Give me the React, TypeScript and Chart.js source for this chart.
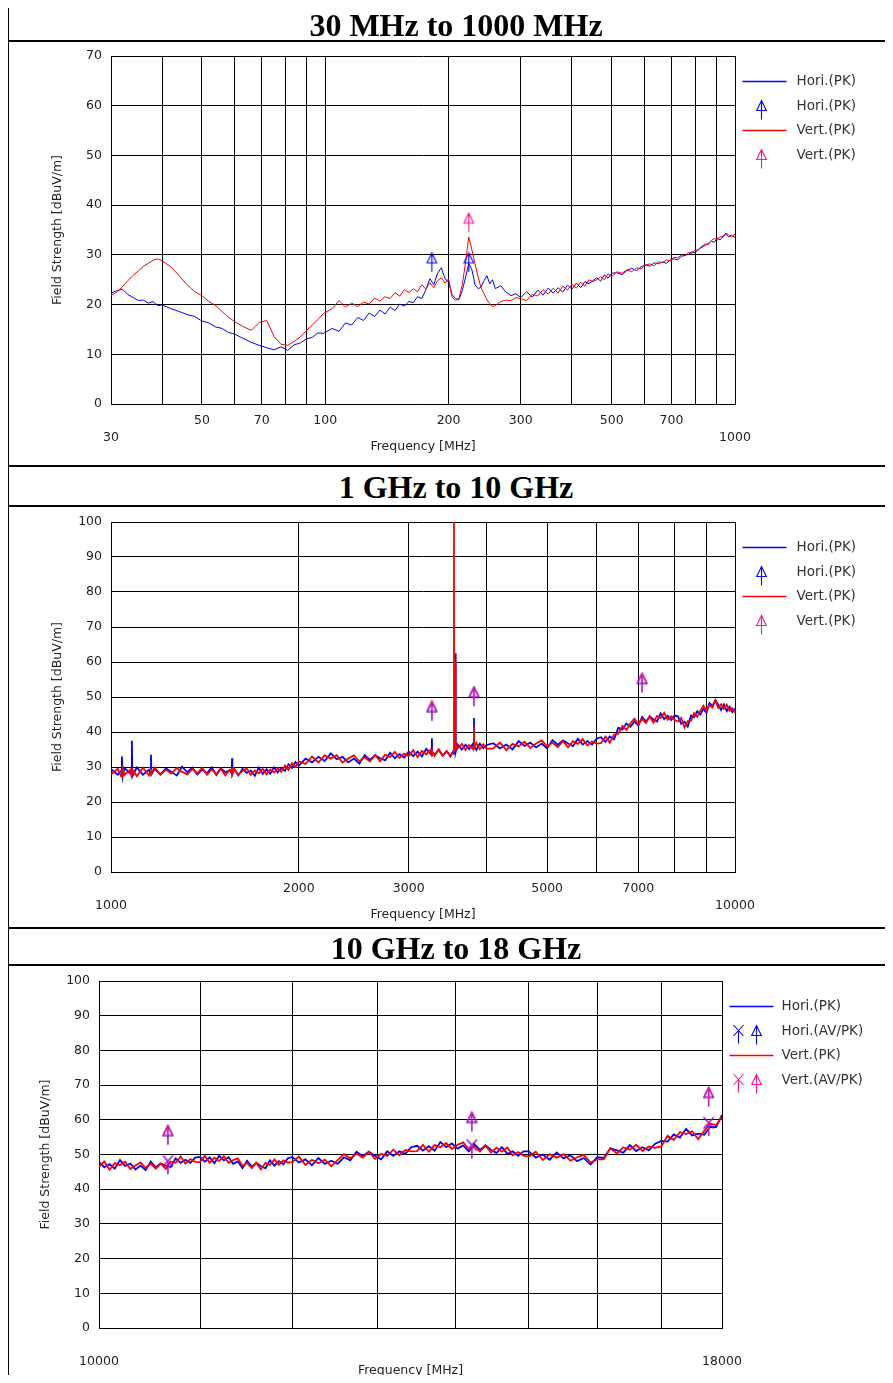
import React, { useEffect, useRef } from 'react';
import { Chart, registerables } from 'chart.js';

Chart.register(...registerables);

const FONT = '"DejaVu Sans", Verdana, sans-serif';
const TEXT = '#222222';
const BLUE = '#0000ff';
const RED = '#ff0000';
const PINK = '#ff1493';

// ================= Panel 1 : 30 MHz to 1000 MHz =================
const F1 = [30,31,32,33,34,35,36,37,38,39,40,42,44,46,48,50,52,54,56,58,60,63,66,69,72,75,78,81,84,87,90,93,96,99,104,108,112,116,120,124,128,132,136,140,144,148,152,156,160,164,168,172,176,180,184,188,192,196,200,204,208,212,216,220,224,228,232,236,240,244,248,252,256,260,268,276,284,292,300,310,320,330,340,350,360,370,380,390,400,410,420,430,440,450,460,470,480,490,500,515,530,545,560,575,590,605,620,635,650,665,680,695,710,725,740,755,770,785,800,815,830,845,860,875,890,905,920,935,950,965,980,1000];
const H1 = [22.3,22.8,23.1,22.0,21.4,20.8,20.9,20.3,20.6,19.8,19.9,
  19.2,18.6,18.0,17.6,16.7,16.3,15.5,15.2,14.4,14.1,
  13.2,12.4,11.8,11.3,10.9,11.5,10.8,11.9,12.3,13.1,13.4,14.3,14.2,
  15.2,14.6,16.3,15.9,17.4,16.8,18.3,17.6,18.9,18.1,19.5,18.8,20.1,19.7,20.6,20.4,21.6,21.2,23.0,25.2,24.0,26.3,27.4,25.2,24.5,
  22.0,21.2,21.0,22.8,25.5,28.2,27.0,24.0,23.2,23.5,24.8,25.8,24.2,25.0,23.2,23.8,22.5,21.8,22.2,21.4,
  22.6,21.5,22.9,21.9,23.3,22.3,23.4,22.5,23.9,23.1,24.3,23.4,24.6,24.2,24.8,25.4,24.7,26.0,25.3,26.3,
  26.4,26.0,26.9,27.3,26.8,27.6,28.0,27.7,28.4,28.2,28.6,28.3,29.0,29.2,29.0,29.7,29.9,30.1,30.6,30.4,31.2,31.5,31.9,32.3,32.8,32.5,33.4,33.0,33.8,34.2,33.6,34.0,33.5];
const V1 = [21.8,22.5,23.6,24.8,25.9,26.8,27.7,28.3,28.9,29.2,28.8,
  27.6,25.8,24.0,22.6,21.8,20.6,19.8,18.6,17.5,16.6,
  15.6,14.8,16.4,16.8,13.6,12.0,11.8,12.6,13.5,14.8,15.9,17.0,18.2,
  19.2,20.8,19.5,20.3,19.6,20.5,20.1,21.3,20.7,21.6,21.2,22.4,21.7,23.0,22.4,23.2,22.6,24.0,23.1,24.4,23.4,24.8,25.4,24.3,25.2,
  21.5,20.8,21.2,24.0,28.5,33.6,31.0,28.2,25.6,23.4,22.2,21.0,20.2,19.6,19.8,20.6,20.9,20.8,21.4,21.2,
  20.8,22.1,21.7,23.0,22.1,23.3,22.3,23.7,22.9,24.1,23.3,24.5,23.7,25.0,24.6,25.0,25.6,25.0,26.2,25.6,
  26.6,26.3,27.0,26.6,27.4,27.2,27.9,28.2,27.8,28.6,28.4,29.0,28.8,29.5,29.4,30.0,29.8,30.5,30.3,31.0,31.0,31.8,32.2,32.0,32.9,33.3,33.0,33.7,33.5,34.4,34.0,33.6,34.2];
const H1_PK_F = [182, 224];
const H1_PK_V = [29.3, 29.3];
const V1_PK_F = [224];
const V1_PK_V = [37.3];
const X1_TICKS = [30,40,50,60,70,80,90,100,200,300,400,500,600,700,800,900,1000];
const X1_UPPER = [50,70,100,200,300,500,700];
const X1_LOWER = [30,1000];

// ================= Panel 2 : 1 GHz to 10 GHz =================
const F2 = [1000,1025,1038,1041,1044,1050,1075,1078,1080,1082,1100,1125,1150,1157,1159,1161,1175,1200,1225,1250,1275,1300,1325,1350,1375,1400,1425,1450,1475,1500,1525,1550,1561,1563,1565,1575,1600,1625,1650,1675,1700,1725,1750,1775,1800,1825,1850,1875,1900,1925,1950,1975,2000,
  2050,2100,2150,2200,2250,2300,2350,2400,2450,2500,2550,2600,2650,2700,2750,2800,2850,2900,2950,3000,3050,3100,3150,3200,3250,3266,3268,3270,3300,3350,3400,3450,3500,3530,3542,3545,3548,3555,3560,3565,3570,3575,3590,3650,3700,3750,3800,3814,3817,3820,3850,3900,3950,4000,
  4100,4200,4300,4400,4500,4600,4700,4800,4900,5000,5100,5200,5300,5400,5500,5600,5700,5800,5900,6000,6100,6200,6300,6400,6500,6600,6700,6800,6900,7000,7100,7200,7300,7400,7500,7600,7700,7800,7900,8000,8100,8200,8300,8400,8500,8600,8700,8800,8900,9000,9100,9200,9300,9400,9500,9600,9700,9800,9900,10000];
const H2 = [29.4,27.8,28.9,33.0,27.4,29.7,28.1,28.8,37.5,27.3,29.9,27.8,29.2,28.0,33.5,27.9,29.5,27.9,29.6,28.6,27.6,30.1,28.5,29.8,27.8,29.3,28.2,29.9,27.7,29.6,28.5,29.1,28.1,32.5,28.0,29.4,27.6,29.5,28.3,29.0,27.5,29.8,28.0,29.4,28.1,29.9,28.4,29.7,28.9,30.8,29.7,31.4,30.4,
  32.4,31.3,32.9,31.7,33.9,32.2,32.9,31.3,32.4,31.0,33.4,32.0,33.4,32.5,31.9,34.1,32.5,33.7,32.7,34.4,33.1,34.4,33.0,35.2,33.8,33.4,38.2,34.2,33.5,35.0,33.2,34.6,33.0,34.3,33.8,34.6,35.2,34.8,62.5,35.4,34.3,35.0,36.5,35.0,36.4,35.1,36.6,35.3,44.0,35.9,34.9,36.7,35.4,36.3,
  36.8,35.3,36.4,35.0,37.4,36.0,37.0,35.6,36.7,35.3,37.7,36.3,37.6,36.7,36.0,38.1,36.4,37.4,36.4,38.1,38.5,37.2,38.7,37.9,41.2,40.7,42.4,41.5,43.0,41.8,44.3,43.0,44.5,43.6,43.0,45.3,43.7,44.6,43.4,44.7,44.5,42.3,42.9,41.5,44.7,44.2,45.9,45.0,46.6,45.5,48.3,47.4,49.1,47.8,46.3,47.9,46.0,47.2,45.7,46.7];
const V2 = [27.9,29.5,27.3,29.0,29.7,27.7,29.3,27.4,28.6,29.3,27.4,29.8,27.6,28.4,29.5,28.1,29.9,27.8,29.2,28.1,29.7,28.6,27.9,29.4,28.2,29.8,27.8,29.3,28.0,29.6,27.6,29.2,28.4,29.7,28.1,29.5,27.8,28.9,29.6,27.7,29.0,28.2,29.5,27.9,29.3,28.4,29.6,28.6,30.4,29.2,31.1,30.0,31.6,
  30.9,33.0,31.3,33.3,32.4,33.4,31.3,32.4,33.3,31.6,32.8,31.6,33.4,31.6,33.5,32.8,34.3,32.6,33.8,33.1,34.8,32.8,34.6,33.6,34.9,33.2,35.2,34.5,33.2,35.0,33.2,34.5,33.2,34.2,34.6,100,35.5,34.4,36.0,60.0,35.0,36.4,35.2,36.6,34.8,36.3,35.2,36.0,41.5,35.4,36.9,35.1,36.5,35.2,
  35.3,37.0,34.8,36.6,35.9,37.2,35.4,36.7,37.6,35.9,36.9,35.7,37.4,35.6,37.4,36.6,38.0,36.1,37.3,36.7,36.8,38.7,36.9,39.3,39.5,41.7,40.6,42.5,43.8,42.3,43.7,42.6,44.5,42.7,44.6,44.0,45.5,43.5,44.5,43.5,43.0,44.0,41.3,43.1,43.2,45.4,44.3,46.1,47.5,46.1,47.7,47.0,49.1,46.9,47.9,46.6,47.8,46.1,46.8,45.5];
const H2_PK_F = [3268, 3817, 7096];
const H2_PK_V = [47.0, 51.2, 55.1];
const V2_PK_F = [3268, 3817, 7096];
const V2_PK_V = [47.4, 51.4, 55.3];
const X2_TICKS = [1000,2000,3000,4000,5000,6000,7000,8000,9000,10000];
const X2_UPPER = [2000,3000,5000,7000];
const X2_LOWER = [1000,10000];

// ================= Panel 3 : 10 GHz to 18 GHz =================
const F3 = [10000,10050,10100,10150,10200,10250,10300,10350,10400,10450,10500,10550,10600,10650,10700,10750,10800,10850,10900,10950,11000,11050,11100,11150,11200,11250,11300,11350,11400,11450,11500,11550,11600,11650,11700,11750,11800,11850,11900,11950,12000,
  12075,12150,12225,12300,12375,12450,12525,12600,12675,12750,12825,12900,12975,13050,13125,13200,13275,13350,13425,13500,13575,13650,13725,13800,13875,13950,14025,14100,14175,14250,14325,14400,14475,14550,14625,14700,14775,14850,14925,15000,
  15100,15200,15300,15400,15500,15600,15700,15800,15900,16000,16100,16200,16300,16400,16500,16600,16700,16800,16900,17000,17100,17200,17300,17400,17500,17600,17700,17800,17900,18000];
const H3 = [47.9,46.3,47.2,45.9,48.4,46.7,47.4,45.7,46.8,45.5,48.0,46.3,47.4,46.8,46.4,48.9,47.6,48.5,47.6,49.1,
  49.3,47.9,49.2,47.5,49.6,48.3,49.2,47.3,48.0,46.1,48.2,46.5,47.6,46.6,46.0,48.3,46.8,48.1,47.2,48.9,
  49.3,47.7,48.6,46.9,49.0,47.3,48.2,47.3,49.2,48.3,50.8,49.5,50.8,49.6,48.6,50.9,49.6,50.9,50.2,52.1,
  52.5,51.1,52.4,51.1,53.6,52.1,53.2,51.7,52.6,50.9,53.0,51.3,52.6,51.4,50.4,52.1,50.2,50.9,49.6,50.9,
  50.9,49.1,50.0,48.5,50.6,48.9,49.8,48.1,49.0,47.1,49.2,49.0,51.8,51.2,50.5,52.7,51.0,52.1,51.2,53.1,
  53.9,53.7,55.8,54.9,57.4,55.5,56.0,55.7,58.0,57.9,61.4];
const V3 = [46.4,48.0,45.6,47.5,46.9,47.9,45.8,46.8,47.7,46.1,47.4,45.9,47.4,45.9,48.0,47.6,49.4,47.4,48.7,47.9,
  47.8,49.6,47.6,49.1,48.1,49.5,47.6,48.4,48.9,46.7,47.6,46.1,47.6,45.7,47.6,47.0,48.6,47.0,48.3,47.7,
  47.8,49.4,47.0,48.5,47.5,48.5,46.6,48.4,50.1,48.9,50.2,49.1,50.8,48.7,50.2,49.6,51.4,49.8,51.3,50.9,
  51.0,52.8,50.8,52.7,52.1,53.3,51.6,52.8,53.5,51.5,52.4,50.9,52.6,50.5,52.0,50.8,52.0,49.8,50.7,49.7,
  49.4,50.8,48.4,50.1,49.1,50.1,48.2,49.2,49.9,47.7,48.6,48.6,51.8,50.3,52.1,51.4,52.8,51.0,52.3,51.9,
  52.4,55.4,54.2,56.5,55.9,56.7,54.4,56.8,58.9,58.5,60.8];
const MK3_F = [10672, 14216, 17775];
const H3_AV_V = [47.9, 52.5, 58.9];
const H3_PK_V = [56.7, 60.5, 67.7];
const V3_AV_V = [48.1, 52.7, 59.1];
const V3_PK_V = [56.9, 60.7, 67.9];
const X3_TICKS = [10000,11000,12000,13000,14000,15000,16000,17000,18000];
const X3_UPPER: number[] = [];
const X3_LOWER = [10000, 18000];

// ================= helpers =================
type IconKind = 'arrow' | 'cross';
interface LegendEntry { label: string; color: string; icons?: IconKind[] }

function drawIcon(ctx: CanvasRenderingContext2D, kind: IconKind, cx: number, cy: number, color: string) {
  ctx.save();
  ctx.strokeStyle = color;
  ctx.lineWidth = 1.1;
  ctx.beginPath();
  if (kind === 'arrow') {
    ctx.moveTo(cx, cy - 5.5);
    ctx.lineTo(cx + 4.8, cy + 4.5);
    ctx.lineTo(cx - 4.8, cy + 4.5);
    ctx.closePath();
    ctx.moveTo(cx, cy - 5.5);
    ctx.lineTo(cx, cy + 13.5);
  } else {
    ctx.moveTo(cx - 5, cy - 6);
    ctx.lineTo(cx + 5, cy + 5);
    ctx.moveTo(cx + 5, cy - 6);
    ctx.lineTo(cx - 5, cy + 5);
    ctx.moveTo(cx, cy - 0.5);
    ctx.lineTo(cx, cy + 12.5);
  }
  ctx.stroke();
  ctx.restore();
}

function makeIcon(kind: IconKind, color: string): HTMLCanvasElement {
  const c = document.createElement('canvas');
  c.width = 15;
  c.height = 33;
  const ctx = c.getContext('2d') as CanvasRenderingContext2D;
  drawIcon(ctx, kind, 7.5, 16.5, color);
  return c;
}

function pts(f: number[], v: number[]) {
  return f.map((x, i) => ({ x, y: v[i] }));
}

function lineSet(label: string, f: number[], v: number[], color: string, width: number, order: number) {
  return {
    type: 'line', label, data: pts(f, v), borderColor: color, backgroundColor: color,
    borderWidth: width, pointRadius: 0, pointHoverRadius: 0, tension: 0, fill: false, order,
  };
}

function markerSet(label: string, f: number[], v: number[], kind: IconKind, color: string, order: number) {
  return {
    type: 'line', label, data: pts(f, v), showLine: false, pointStyle: makeIcon(kind, color),
    pointRadius: 4, pointHoverRadius: 4, borderColor: color, backgroundColor: color, order,
  };
}

function legendPlugin(items: LegendEntry[], iconX: number[], textDx: number) {
  return {
    id: 'sideLegend',
    afterDraw(chart: any) {
      const { ctx, chartArea } = chart;
      const x0 = chartArea.right + 7.5;
      ctx.save();
      ctx.font = `13.5px ${FONT}`;
      ctx.textBaseline = 'middle';
      ctx.textAlign = 'left';
      items.forEach((it, i) => {
        const y = Math.round(chartArea.top + 25 + i * 24.6);
        if (!it.icons) {
          ctx.strokeStyle = it.color;
          ctx.lineWidth = 1.3;
          ctx.beginPath();
          ctx.moveTo(x0, y + 0.5);
          ctx.lineTo(x0 + 44, y + 0.5);
          ctx.stroke();
        } else {
          it.icons.forEach((k, j) => drawIcon(ctx, k, Math.round(x0 + iconX[j]) + 0.5, y, it.color));
        }
        ctx.fillStyle = '#333333';
        ctx.fillText(it.label, x0 + textDx, y + 0.5);
      });
      ctx.restore();
    },
  };
}

interface PanelSpec {
  datasets: any[];
  xMin: number; xMax: number; xTicks: number[]; upper: number[]; lower: number[];
  yMax: number; yWidth: number; yTitlePad: number;
  padTop: number; padRight: number; padBottom: number;
  legend: LegendEntry[]; iconX: number[]; textDx: number;
}

function makeConfig(s: PanelSpec): any {
  const tickFont = { family: FONT, size: 12.5, lineHeight: 1.3 };
  const titleFont = { family: FONT, size: 12.5, lineHeight: 1.2 };
  const grid = { color: '#000000', lineWidth: 1, drawTicks: false };
  const border = { color: '#000000', width: 1 };
  return {
    type: 'line',
    data: { datasets: s.datasets },
    options: {
      responsive: false,
      animation: false,
      events: [],
      layout: { padding: { left: 0, top: s.padTop, right: s.padRight, bottom: s.padBottom } },
      plugins: { legend: { display: false }, tooltip: { enabled: false }, title: { display: false } },
      scales: {
        x: {
          type: 'logarithmic', min: s.xMin, max: s.xMax,
          afterBuildTicks: (sc: any) => { sc.ticks = s.xTicks.map((value) => ({ value })); },
          afterFit: (sc: any) => { sc.height = 52; sc.paddingLeft = 0; sc.paddingRight = 0; },
          ticks: {
            autoSkip: false, maxRotation: 0, minRotation: 0, padding: 9, color: TEXT, font: tickFont,
            callback: (val: any) => {
              const v = Number(val);
              if (s.upper.includes(v)) return String(v);
              if (s.lower.includes(v)) return ['', String(v)];
              return '';
            },
          },
          grid, border,
          title: { display: true, text: 'Frequency [MHz]', color: TEXT, font: titleFont, padding: { top: 0, bottom: 2 } },
        },
        y: {
          type: 'linear', min: 0, max: s.yMax,
          afterFit: (sc: any) => { sc.width = s.yWidth; sc.paddingTop = 0; sc.paddingBottom = 0; },
          ticks: { stepSize: 10, padding: 9, color: TEXT, font: tickFont },
          grid, border,
          title: { display: true, text: 'Field Strength [dBuV/m]', color: TEXT, font: titleFont, padding: { top: s.yTitlePad, bottom: 0 } },
        },
      },
    },
    plugins: [legendPlugin(s.legend, s.iconX, s.textDx)],
  };
}

const LEGEND_12: LegendEntry[] = [
  { label: 'Hori.(PK)', color: BLUE },
  { label: 'Hori.(PK)', color: BLUE, icons: ['arrow'] },
  { label: 'Vert.(PK)', color: RED },
  { label: 'Vert.(PK)', color: PINK, icons: ['arrow'] },
];
const LEGEND_3: LegendEntry[] = [
  { label: 'Hori.(PK)', color: BLUE },
  { label: 'Hori.(AV/PK)', color: BLUE, icons: ['cross', 'arrow'] },
  { label: 'Vert.(PK)', color: RED },
  { label: 'Vert.(AV/PK)', color: PINK, icons: ['cross', 'arrow'] },
];

function spec1(): PanelSpec {
  return {
    datasets: [
      markerSet('Vert.(PK)', V1_PK_F, V1_PK_V, 'arrow', PINK, 0),
      markerSet('Hori.(PK)', H1_PK_F, H1_PK_V, 'arrow', BLUE, 1),
      lineSet('Vert.(PK)', F1, V1, RED, 1, 2),
      lineSet('Hori.(PK)', F1, H1, BLUE, 1, 3),
    ],
    xMin: 30, xMax: 1000, xTicks: X1_TICKS, upper: X1_UPPER, lower: X1_LOWER,
    yMax: 70, yWidth: 102, yTitlePad: 41.5, padTop: 13, padRight: 158, padBottom: 9,
    legend: LEGEND_12, iconX: [18.5], textDx: 54,
  };
}
function spec2(): PanelSpec {
  return {
    datasets: [
      markerSet('Vert.(PK)', V2_PK_F, V2_PK_V, 'arrow', PINK, 0),
      markerSet('Hori.(PK)', H2_PK_F, H2_PK_V, 'arrow', BLUE, 1),
      lineSet('Vert.(PK)', F2, V2, RED, 1.8, 2),
      lineSet('Hori.(PK)', F2, H2, BLUE, 1.8, 3),
    ],
    xMin: 1000, xMax: 10000, xTicks: X2_TICKS, upper: X2_UPPER, lower: X2_LOWER,
    yMax: 100, yWidth: 102, yTitlePad: 41.5, padTop: 15, padRight: 158, padBottom: 3,
    legend: LEGEND_12, iconX: [18.5], textDx: 54,
  };
}
function spec3(): PanelSpec {
  return {
    datasets: [
      markerSet('Vert.(AV)', MK3_F, V3_AV_V, 'cross', PINK, 0),
      markerSet('Vert.(PK)', MK3_F, V3_PK_V, 'arrow', PINK, 0),
      markerSet('Hori.(AV)', MK3_F, H3_AV_V, 'cross', BLUE, 1),
      markerSet('Hori.(PK)', MK3_F, H3_PK_V, 'arrow', BLUE, 1),
      lineSet('Vert.(PK)', F3, V3, RED, 1.8, 2),
      lineSet('Hori.(PK)', F3, H3, BLUE, 1.8, 3),
    ],
    xMin: 10000, xMax: 18000, xTicks: X3_TICKS, upper: X3_UPPER, lower: X3_LOWER,
    yMax: 100, yWidth: 90, yTitlePad: 29.5, padTop: 15, padRight: 171, padBottom: 3,
    legend: LEGEND_3, iconX: [8.5, 26.5], textDx: 52,
  };
}

function Panel(props: { make: () => PanelSpec; left: number; top: number; width: number; height: number }) {
  const ref = useRef<HTMLCanvasElement>(null);
  useEffect(() => {
    if (!ref.current) return;
    const chart = new Chart(ref.current, makeConfig(props.make()));
    return () => chart.destroy();
  }, []);
  return (
    <canvas
      ref={ref}
      width={props.width}
      height={props.height}
      style={{ position: 'absolute', left: props.left, top: props.top, width: props.width, height: props.height, display: 'block' }}
    />
  );
}

function Rule(props: { left: number; top: number; width: number; height: number }) {
  return <div style={{ position: 'absolute', background: '#000', left: props.left, top: props.top, width: props.width, height: props.height }} />;
}

function Title(props: { text: string; center: number }) {
  return (
    <div
      style={{
        position: 'absolute', left: 7, width: 898, top: props.center - 20, height: 40, lineHeight: '40px',
        textAlign: 'center', fontFamily: '"Liberation Serif", "Times New Roman", serif', fontWeight: 'bold', fontSize: 32, color: '#000',
        whiteSpace: 'nowrap',
      }}
    >
      {props.text}
    </div>
  );
}

export default function App() {
  return (
    <div style={{ position: 'relative', width: 893, height: 1383, margin: -8, overflow: 'hidden', background: '#ffffff' }}>
      <Panel make={spec1} left={9} top={43} width={884} height={422} />
      <Panel make={spec2} left={9} top={507} width={884} height={420} />
      <Panel make={spec3} left={9} top={966} width={884} height={417} />
      <Title text="30 MHz to 1000 MHz" center={25} />
      <Title text="1 GHz to 10 GHz" center={486.7} />
      <Title text="10 GHz to 18 GHz" center={948} />
      <Rule left={7} top={3} width={2} height={1380} />
      <Rule left={7} top={3} width={886} height={2} />
      <Rule left={7} top={40} width={886} height={2} />
      <Rule left={7} top={465} width={886} height={2} />
      <Rule left={7} top={505} width={886} height={2} />
      <Rule left={7} top={927} width={886} height={2} />
      <Rule left={7} top={964} width={886} height={2} />
    </div>
  );
}
